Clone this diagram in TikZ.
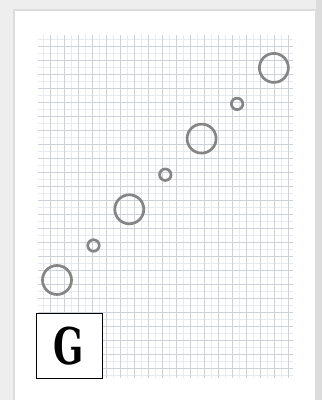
\documentclass[tikz,border=0pt]{standalone}
\usepackage{fontspec}
\newfontfamily\tagfont{DejaVu Serif}
\definecolor{grdPaper}{HTML}{EEEEEE}
\definecolor{grdEdge}{HTML}{DCDCDC}
\definecolor{grdMajor}{HTML}{CDD2D8}
\definecolor{grdMinor}{HTML}{E8EBEE}
\definecolor{grdRing}{HTML}{858585}
\tikzset{
  grd major/.style={draw=grdMajor, line width=1mm},
  grd minor/.style={draw=grdMinor, line width=1mm},
  grd ring/.style={circle, draw=grdRing, line width=2.7mm, inner sep=0pt},
  grd tag/.style={draw=black, fill=white, line width=1mm, minimum width=66mm, minimum height=65mm, inner sep=0pt},
  grd letter/.style={font=\tagfont\bfseries\fontsize{144}{144}\selectfont, xscale=0.7, text=black},
}

\begin{document}
\begin{tikzpicture}[x=1mm,y=-1mm]
  \useasboundingbox (0,0) rectangle (322,400);
  \fill[grdPaper] (0,0) rectangle (322,400);
  \fill[grdEdge] (316,0) rectangle (322,400);
  \draw[grdEdge,line width=1.5mm,fill=white] (14,10) rectangle (316,402);
  % grid paper
  \foreach \i in {0,...,17}{\draw[grd minor] ({43.5+14*\i},35) -- ({43.5+14*\i},378);}
  \foreach \j in {0,...,24}{\draw[grd minor] (38,{39.5+14*\j}) -- (293,{39.5+14*\j});}
  \foreach \i in {0,...,17}{\draw[grd major] ({50.5+14*\i},35) -- ({50.5+14*\i},378);}
  \foreach \j in {0,...,23}{\draw[grd major] (38,{46.5+14*\j}) -- (293,{46.5+14*\j});}
  % rings
  \foreach \k in {0,...,3}{\node[grd ring,minimum size=29mm] (big\k) at ({57+72.3*\k},{280-70.7*\k}) {};}
  \foreach \k in {0,1,2}{\node[grd ring,minimum size=11.5mm] (small\k) at ({93.5+71.8*\k},{245.5-70.8*\k}) {};}
  \node[grd tag] (tag) at (69,345.5) {};
  \node[grd letter] (letter) at ([yshift=-1mm]tag.center) {G};
\end{tikzpicture}
\end{document}
